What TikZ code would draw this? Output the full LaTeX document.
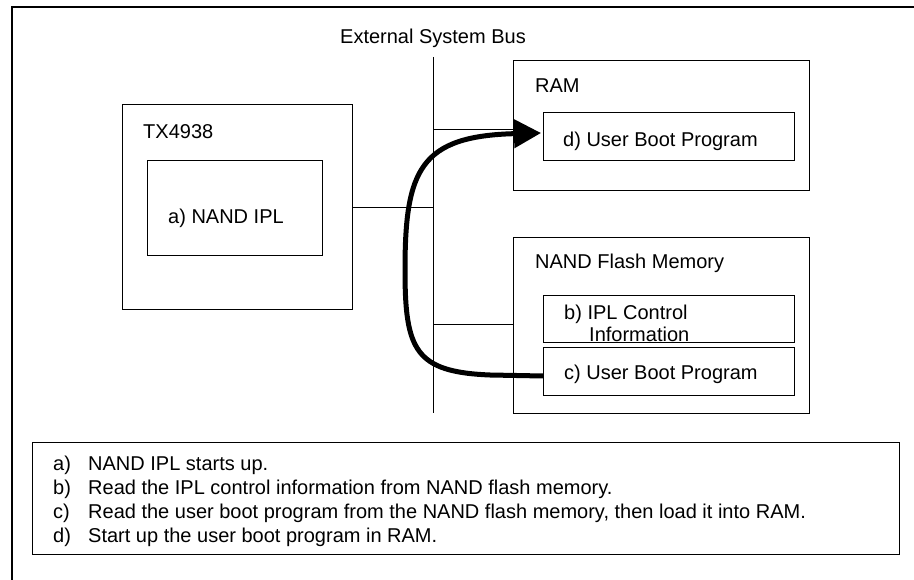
\documentclass[tikz,border=0pt]{standalone}
\usepackage{fontspec}
\setmainfont{Liberation Sans}
\usetikzlibrary{arrows.meta}
\newcommand\dfs{\fontsize{20}{22}\selectfont}
\begin{document}
\begin{tikzpicture}[x=1pt,y=-1pt,
  box/.style={draw, line width=1pt, inner sep=0pt, outer sep=0pt, anchor=north west},
  txt/.style={inner sep=0pt, anchor=base west, font=\dfs},
  wire/.style={line width=0.9pt},
  frame/.style={line width=1.5pt},
  flow/.style={line width=5pt, -{Triangle[length=27pt,width=28pt]}}]
\useasboundingbox (0,0) rectangle (914,580);
% outer frame (open at right and bottom)
\coordinate (f1) at (12,580); \coordinate (f2) at (12,7); \coordinate (f3) at (914,7);
\draw[frame] (f1) -- (f2) -- (f3);
% boxes
\node[box, minimum width=230pt, minimum height=205pt] (tx) at (122,105) {};
\node[box, minimum width=175pt, minimum height=95pt] (ipl) at (147,161) {};
\node[box, minimum width=296pt, minimum height=130pt] (ram) at (513,61) {};
\node[box, minimum width=251pt, minimum height=48pt] (dbox) at (543,113) {};
\node[box, minimum width=296pt, minimum height=175pt] (nand) at (513,238) {};
\node[box, minimum width=251pt, minimum height=47pt] (bbox) at (543,296) {};
\node[box, minimum width=251pt, minimum height=47pt] (cbox) at (543,348) {};
\node[box, minimum width=867pt, minimum height=112pt] (legend) at (32,442) {};
% texts
\node[txt, anchor=base] (bustxt) at (433,44) {External System Bus};
\node[txt] (txl) at (143,139) {TX4938};
\node[txt] (ipll) at (168,224) {a) NAND IPL};
\node[txt] (raml) at (535,93) {RAM};
\node[txt] (dl) at (563,147) {d) User Boot Program};
\node[txt] (nandl) at (535,269) {NAND Flash Memory};
\node[txt] (bl1) at (564,320) {b) IPL Control};
\node[txt] (bl2) at (589,342) {Information};
\node[txt] (cl) at (564,380) {c) User Boot Program};
% legend
\node[txt] (la) at (53,470) {a)};
\node[txt] (lat) at (88,470) {NAND IPL starts up.};
\node[txt] (lb) at (53,494) {b)};
\node[txt] (lbt) at (88,494) {Read the IPL control information from NAND flash memory.};
\node[txt] (lc) at (53,518) {c)};
\node[txt] (lct) at (88,518) {Read the user boot program from the NAND flash memory, then load it into RAM.};
\node[txt] (ld) at (53,542) {d)};
\node[txt] (ldt) at (88,542) {Start up the user boot program in RAM.};
% bus
\coordinate (bt) at (433,57); \coordinate (bb) at (433,413);
\draw[wire] (bt) -- (bb);
\draw[wire] (tx.east) -- (tx.east -| bt);
\coordinate (jr) at (433,129); \draw[wire] (jr) -- (jr -| ram.west);
\coordinate (jn) at (433,324); \draw[wire] (jn) -- (jn -| nand.west);
% flow arrow
\coordinate (fs) at (543,376); \coordinate (fe) at (541,133);
\draw[flow] (fs) -- (490,375) .. controls (415,372) and (405,350) .. (405,270)
  .. controls (405,170) and (420,136) .. (fe);
\end{tikzpicture}
\end{document}
